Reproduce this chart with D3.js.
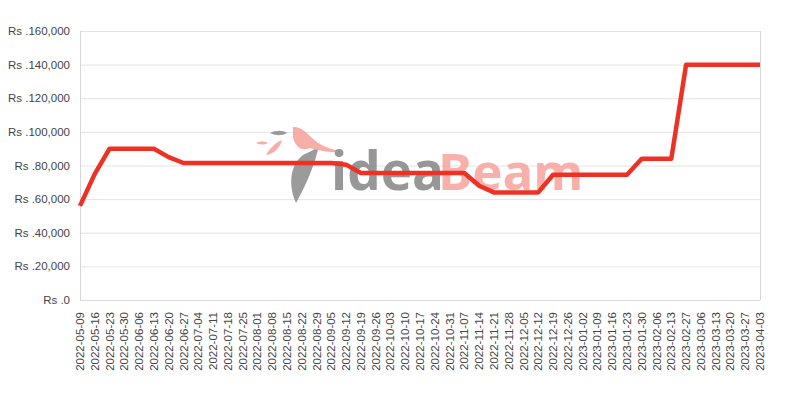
<!DOCTYPE html>
<html><head><meta charset="utf-8">
<script src="https://cdn.jsdelivr.net/npm/d3@7"></script>
<style>body{margin:0;background:#fff}svg{display:block}</style>
</head><body>
<svg id="c" width="800" height="400"></svg>
<script>
const dates = ["2022-05-09","2022-05-16","2022-05-23","2022-05-30","2022-06-06","2022-06-13","2022-06-20","2022-06-27","2022-07-04","2022-07-11","2022-07-18","2022-07-25","2022-08-01","2022-08-08","2022-08-15","2022-08-22","2022-08-29","2022-09-05","2022-09-12","2022-09-19","2022-09-26","2022-10-03","2022-10-10","2022-10-17","2022-10-24","2022-10-31","2022-11-07","2022-11-14","2022-11-21","2022-11-28","2022-12-05","2022-12-12","2022-12-19","2022-12-26","2023-01-02","2023-01-09","2023-01-16","2023-01-23","2023-01-30","2023-02-06","2023-02-13","2023-02-27","2023-03-06","2023-03-13","2023-03-20","2023-03-27","2023-04-03"];
const prices = [56000,75000,90000,90000,90000,90000,85000,81500,81500,81500,81500,81500,81500,81500,81500,81500,81500,81500,80500,75500,75500,75500,75500,75500,75500,75500,75500,68000,64000,64000,64000,64000,74500,74500,74500,74500,74500,74500,84000,84000,84000,140000,140000,140000,140000,140000,140000];
const yTicks = [0,20000,40000,60000,80000,100000,120000,140000,160000];

(function(){
const svg = d3.select("#c");
const mL = 80, mR = 760, mT = 31, mB = 300;
const x = d3.scalePoint().domain(dates).range([mL, mR]).padding(0);
const y = d3.scaleLinear().domain([0,160000]).range([mB, mT]);
const fmt = v => "Rs ." + d3.format(",")(v);

// grid
svg.append("g").selectAll("line").data(yTicks).join("line")
  .attr("x1", mL).attr("x2", mR)
  .attr("y1", d => y(d) + 0.5).attr("y2", d => y(d) + 0.5)
  .attr("stroke", "#e3e3e3").attr("stroke-width", 1);

// watermark
const wm = svg.append("g").attr("opacity", 0.85);
wm.append("path")
  .attr("d", "M296,203 C288,185 290,165 303,155 C313,150 320,148 320,140 C318,152 312,175 296,203 Z")
  .attr("fill", "#8a8a8a");
wm.append("path")
  .attr("d", "M293,127 C300,126 306,132 312,138 C320,146 330,148 340,152 C328,153 318,150 310,148 C300,152 296,146 293,138 Z")
  .attr("fill", "#f5a09a");
wm.append("path")
  .attr("d", "M266,155 C270,148 276,142 282,140 C280,148 274,154 266,155 Z")
  .attr("fill", "#f5a09a");
wm.append("path")
  .attr("d", "M256,143 C260,141 265,141 268,143 C264,145 260,145 256,143 Z")
  .attr("fill", "#f5a09a");
wm.append("path")
  .attr("d", "M270,133 C276,130 283,130 287,133 C282,136 276,136 270,133 Z")
  .attr("fill", "#8a8a8a");
wm.append("text").attr("x", 331).attr("y", 190)
  .attr("font-family", "Open Sans").attr("font-size", 53).attr("font-weight", "bold")
  .attr("fill", "#858585").text("idea");
wm.append("text").attr("x", 438).attr("y", 190)
  .attr("font-family", "Open Sans").attr("font-size", 51).attr("font-weight", "bold")
  .attr("fill", "#f7a39c").text("Beam");

// axis frame
svg.append("line").attr("x1", mL + 0.5).attr("x2", mL + 0.5).attr("y1", mT).attr("y2", mB)
  .attr("stroke", "#d6d6d6");
svg.append("line").attr("x1", mR + 0.5).attr("x2", mR + 0.5).attr("y1", mT).attr("y2", mB)
  .attr("stroke", "#d6d6d6");
svg.append("line").attr("x1", mL).attr("x2", mR).attr("y1", mB + 0.5).attr("y2", mB + 0.5)
  .attr("stroke", "#d6d6d6");

// y labels
svg.append("g").selectAll("text").data(yTicks).join("text")
  .attr("x", 70).attr("y", d => y(d)).attr("dy", "0.35em")
  .attr("text-anchor", "end")
  .attr("font-family", "Liberation Sans, Arial, sans-serif").attr("font-size", 11.5)
  .attr("fill", "#444").text(fmt);

// x labels
svg.append("g").selectAll("text").data(dates).join("text")
  .attr("transform", d => `translate(${x(d)},312) rotate(-90)`)
  .attr("dy", "0.35em")
  .attr("text-anchor", "end")
  .attr("font-family", "Liberation Sans, Arial, sans-serif").attr("font-size", 11.5)
  .attr("fill", "#444").text(d => d);

// line
const line = d3.line().x((d, i) => x(dates[i])).y(d => y(d));
svg.append("path").datum(prices)
  .attr("d", line).attr("fill", "none")
  .attr("stroke", "#ee3124").attr("stroke-width", 4.5)
  .attr("stroke-linejoin", "round");
})();
</script>
</body></html>
